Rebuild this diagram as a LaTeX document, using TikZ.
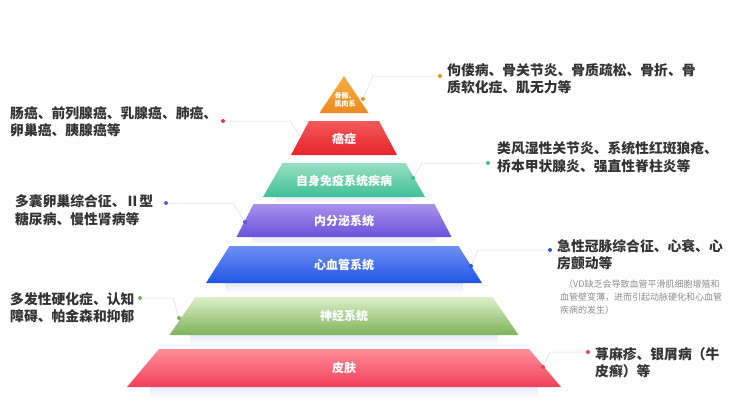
\documentclass[tikz,border=0pt]{standalone}
\usepackage{fontspec}
\setmainfont{Noto Sans CJK SC}
\usepackage{xcolor}
\usepackage{tikz}

\definecolor{orangeT}{HTML}{F7B043}
\definecolor{orangeB}{HTML}{EC8A1E}
\definecolor{redT}{HTML}{F25A5A}
\definecolor{redB}{HTML}{E8222A}
\definecolor{tealT}{HTML}{98DFC4}
\definecolor{tealB}{HTML}{3EC096}
\definecolor{purT}{HTML}{A792EC}
\definecolor{purB}{HTML}{6C52DA}
\definecolor{bluT}{HTML}{6E90F3}
\definecolor{bluB}{HTML}{2255E6}
\definecolor{grnT}{HTML}{DCEFC8}
\definecolor{grnB}{HTML}{7EB25A}
\definecolor{pnkT}{HTML}{FF8E9A}
\definecolor{pnkB}{HTML}{F0405A}
\definecolor{ink}{HTML}{333333}
\definecolor{glow}{HTML}{E6EAFA}

\tikzset{
    layerlabel/.style={text=white,font=\bfseries\fontsize{12}{14}\selectfont,inner sep=0pt},
    desc/.style={text=ink,font=\bfseries\fontsize{13.8}{17.5}\selectfont,align=left,inner sep=0pt,anchor=west},
    note/.style={text=black!45,font=\fontsize{9}{13}\selectfont,align=left,inner sep=0pt,anchor=west},
    leader/.style={draw=black!14,line width=0.5pt},
    shadowbar/.style={top color=glow,bottom color=white,draw=none},
}

\begin{document}
\begin{tikzpicture}[x=1pt,y=-1pt]
    \useasboundingbox (0,0) rectangle (730,408);

    % pyramid layers
    \shade[shadowbar] (150,387) rectangle (538,398);
    \shade[top color=pnkT,bottom color=pnkB] (159,349) -- (529,349) -- (561,387) -- (127,387) -- cycle;
    \node[layerlabel] (skin) at (344,368) {皮肤};

    \shade[shadowbar] (190,335) rectangle (498,345);
    \shade[top color=grnT,bottom color=grnB] (195.5,297) -- (492.5,297) -- (518.5,335) -- (169.5,335) -- cycle;
    \node[layerlabel] (nerve) at (344,316) {神经系统};

    \shade[shadowbar] (225,283) rectangle (463,293);
    \shade[top color=bluT,bottom color=bluB] (229.5,246) -- (458.5,246) -- (482,283) -- (206,283) -- cycle;
    \node[layerlabel] (heart) at (344,265) {心血管系统};

    \shade[shadowbar] (252,237) rectangle (436,244);
    \shade[top color=purT,bottom color=purB] (253.5,204) -- (434.5,204) -- (451.5,237) -- (236.5,237) -- cycle;
    \node[layerlabel] (endo) at (344,221) {内分泌系统};

    \shade[shadowbar] (276,197) rectangle (412,203);
    \shade[top color=tealT,bottom color=tealB] (282.5,163) -- (405.5,163) -- (425,197) -- (263,197) -- cycle;
    \node[layerlabel] (immune) at (344,181) {自身免疫系统疾病};

    \shade[top color=redT,bottom color=redB] (309,121) -- (379,121) -- (397,155) -- (291,155) -- cycle;
    \node[layerlabel] (cancer) at (344,139) {癌症};

    \shade[top color=orangeT,bottom color=orangeB] (344,76) -- (368.5,113) -- (319.5,113) -- cycle;
    \node[text=white,font=\bfseries\fontsize{7}{8.5}\selectfont,align=center,inner sep=0pt] (bone) at (345,100) {骨骼、\\肌肉系};

    % leader lines
    \coordinate (boneA) at (363,99);
    \coordinate (boneK) at (373,76);
    \coordinate (boneB) at (440,76);
    \draw[leader] (boneA) -- (boneK) -- (boneB);

    \coordinate (cancerA) at (302,139);
    \coordinate (cancerK) at (290,121);
    \coordinate (cancerB) at (223,121);
    \draw[leader] (cancerA) -- (cancerK) -- (cancerB);

    \coordinate (immuneA) at (413,178);
    \coordinate (immuneK) at (422,163);
    \coordinate (immuneB) at (488,163);
    \draw[leader] (immuneA) -- (immuneK) -- (immuneB);

    \coordinate (endoA) at (245,222);
    \coordinate (endoK) at (233,203);
    \coordinate (endoB) at (166,203);
    \draw[leader] (endoA) -- (endoK) -- (endoB);

    \coordinate (heartA) at (471,266);
    \coordinate (heartK) at (478,250);
    \coordinate (heartB) at (550,250);
    \draw[leader] (heartA) -- (heartK) -- (heartB);

    \coordinate (nerveA) at (179,318);
    \coordinate (nerveK) at (173,298);
    \coordinate (nerveB) at (140,298);
    \draw[leader] (nerveA) -- (nerveK) -- (nerveB);

    \coordinate (skinA) at (543,367);
    \coordinate (skinK) at (550,352);
    \coordinate (skinB) at (588,352);
    \draw[leader] (skinA) -- (skinK) -- (skinB);

    % end dots
    \fill[orangeB] (boneA) circle (2pt) (boneB) circle (2pt);
    \fill[redB!90] (cancerA) circle (2pt) (cancerB) circle (2pt);
    \fill[tealB] (immuneA) circle (2pt) (immuneB) circle (2pt);
    \fill[purB] (endoA) circle (2pt) (endoB) circle (2pt);
    \fill[bluB] (heartA) circle (2pt) (heartB) circle (2pt);
    \fill[grnB] (nerveA) circle (2pt) (nerveB) circle (2pt);
    \fill[pnkB] (skinA) circle (2pt) (skinB) circle (2pt);

    % descriptions
    \node[desc] (boneText) at (447,78.5) {佝偻病、骨关节炎、骨质疏松、骨折、骨\\质软化症、肌无力等};
    \node[desc] (cancerText) at (10,121.5) {肠癌、前列腺癌、乳腺癌、肺癌、\\卵巢癌、胰腺癌等};
    \node[desc] (immuneText) at (497,157) {类风湿性关节炎、系统性红斑狼疮、\\桥本甲状腺炎、强直性脊柱炎等};
    \node[desc] (endoText) at (15,210) {多囊卵巢综合征、Ⅱ型\\糖尿病、慢性肾病等};
    \node[desc] (heartText) at (557,254.5) {急性冠脉综合征、心衰、心\\房颤动等};
    \node[note] (heartNote) at (560,297) {\hspace*{4pt}（VD缺乏会导致血管平滑肌细胞增殖和\\血管壁变薄，进而引起动脉硬化和心血管\\疾病的发生）};
    \node[desc] (nerveText) at (10,307.5) {多发性硬化症、认知\\障碍、帕金森和抑郁};
    \node[desc] (skinText) at (595,362.5) {荨麻疹、银屑病（牛\\皮癣）等};
\end{tikzpicture}
\end{document}
